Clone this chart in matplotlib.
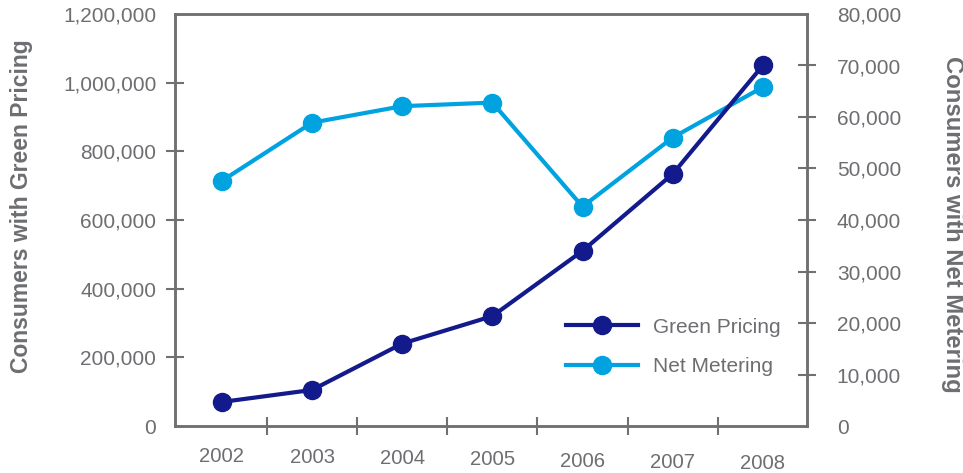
import matplotlib
matplotlib.use('Agg')
import matplotlib.pyplot as plt
import matplotlib.transforms as mtransforms
from matplotlib.ticker import FuncFormatter, FixedLocator
from matplotlib.lines import Line2D

# data
years = ['2002', '2003', '2004', '2005', '2006', '2007', '2008']
green_pricing = [70000, 105000, 240000, 320000, 510000, 734000, 1050000]
net_metering = [47600, 58900, 62100, 62800, 42600, 56000, 65800]

navy = '#131A8C'
light = '#00A3DF'
gray = '#6D6E71'
spine_gray = '#707070'

plt.rcParams['font.family'] = ['Liberation Sans', 'DejaVu Sans']

fig = plt.figure(figsize=(9.63, 4.73), dpi=100)
ax = fig.add_axes([175 / 963, 47 / 473, 632 / 963, 412 / 473])
ax2 = ax.twinx()

x = list(range(len(years)))
ax2.plot(x, net_metering, color=light, lw=3, marker='o', ms=13, zorder=3)
ax.plot(x, green_pricing, color=navy, lw=3, marker='o', ms=13, zorder=3)

# green pricing drawn on top
ax.set_zorder(ax2.get_zorder() + 1)
ax.patch.set_visible(False)

ax.set_xlim(-0.52, 6.49)
ax.set_ylim(0, 1200000)
ax2.set_ylim(0, 80000)

fmt = FuncFormatter(lambda v, p: f'{int(v):,}')
ax.set_yticks(range(0, 1200001, 200000))
ax.yaxis.set_major_formatter(fmt)
ax2.set_yticks(range(0, 80001, 10000))
ax2.yaxis.set_major_formatter(fmt)

ax.set_xticks(x)
ax.set_xticklabels(years)
ax.xaxis.set_minor_locator(FixedLocator([i + 0.5 for i in range(6)]))
ax.tick_params(axis='x', which='major', length=0, pad=15, labelsize=14.6, labelcolor=gray)
ax.tick_params(axis='x', which='minor', direction='inout', length=13, width=1.5, color=spine_gray)
ax.tick_params(axis='y', direction='inout', length=13, width=1.5, color=spine_gray,
               labelsize=15, labelcolor=gray, pad=7)
ax2.tick_params(axis='y', direction='inout', length=13, width=1.5, color=spine_gray,
                labelsize=15, labelcolor=gray, pad=15)

# hide tick marks at the ends of the y axes
for a in (ax, ax2):
    ticks = a.yaxis.get_major_ticks()
    for t in (ticks[0], ticks[-1]):
        t.tick1line.set_visible(False)
        t.tick2line.set_visible(False)

for a in (ax, ax2):
    for s in a.spines.values():
        s.set_color(spine_gray)
        s.set_linewidth(1.8)

# x labels drift downward a bit in the original
for i, lbl in enumerate(ax.get_xticklabels()):
    lbl.set_transform(lbl.get_transform() + mtransforms.ScaledTranslation(0, -i * 1.2 / 100, fig.dpi_scale_trans))

fig.text(22 / 963, 1 - 206 / 473, 'Consumers with Green Pricing', fontsize=16.5, fontweight='bold',
         color=gray, rotation=90, ha='center', va='center')
fig.text(952 / 963, 1 - 224 / 473, 'Consumers with Net Metering', fontsize=17.2, fontweight='bold',
         color=gray, rotation=-90, ha='center', va='center')

handles = [Line2D([], [], color=navy, lw=3, marker='o', ms=13),
           Line2D([], [], color=light, lw=3, marker='o', ms=13)]
leg = ax.legend(handles, ['Green Pricing', 'Net Metering'], loc='center left',
                bbox_to_anchor=(547 / 963, 1 - 347 / 473), bbox_transform=fig.transFigure,
                frameon=False, fontsize=15, handlelength=3.45, labelspacing=0.98, handletextpad=0.72)
for t in leg.get_texts():
    t.set_color(gray)

fig.savefig('out.png', dpi=100)
